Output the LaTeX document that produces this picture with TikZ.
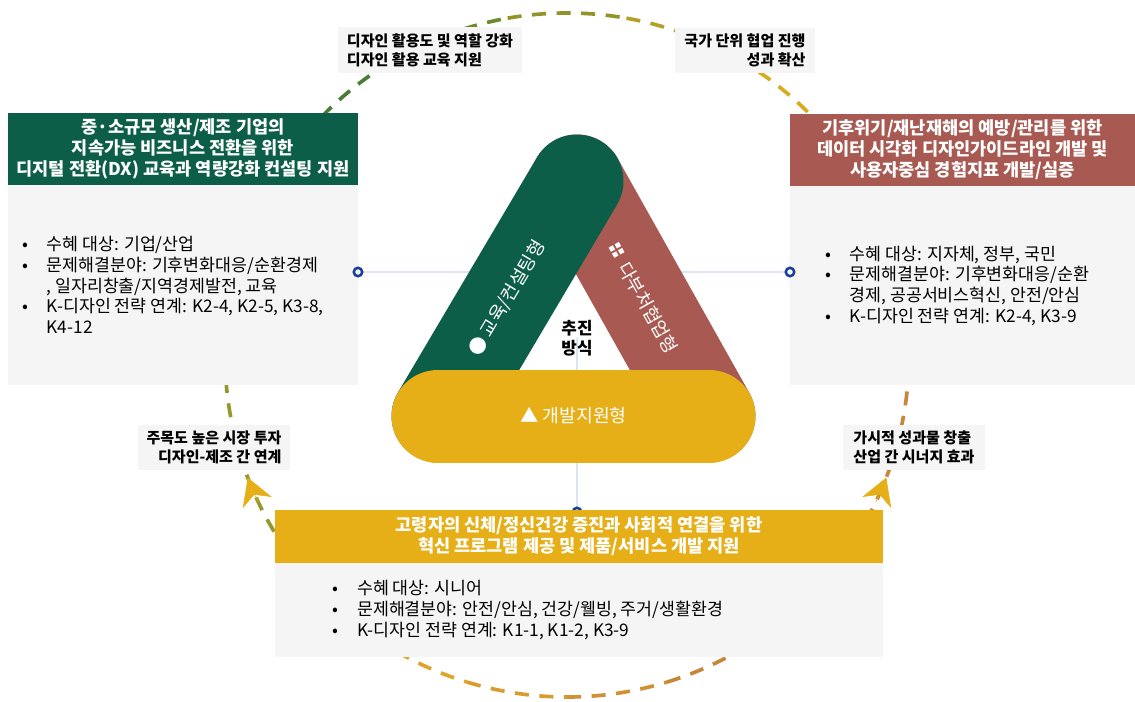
\documentclass[tikz,border=0pt]{standalone}
\usepackage{fontspec}
\setmainfont{Noto Sans CJK KR}
\usetikzlibrary{arrows.meta, positioning, calc}

\definecolor{DeepGreen}{RGB}{12, 94, 72}
\definecolor{Brick}{RGB}{168, 90, 82}
\definecolor{Mustard}{RGB}{230, 174, 23}
\definecolor{PaleGray}{RGB}{245, 245, 245}
\definecolor{RingBlue}{RGB}{22, 66, 150}
\definecolor{HairGray}{RGB}{222, 228, 240}
\definecolor{ArcGreen}{RGB}{76, 124, 52}
\definecolor{ArcGold}{RGB}{214, 172, 28}
\definecolor{ArcOlive}{RGB}{150, 152, 44}
\definecolor{ArcOrange}{RGB}{200, 134, 58}
\definecolor{ArcAmber}{RGB}{222, 165, 40}

\newcommand{\bul}{\makebox[17.5pt][l]{•}}
\newcommand{\cont}{\hspace*{17.5pt}}
\newcommand{\sqbit}{\rule{3.4pt}{3.4pt}}
\newcommand{\foursq}{\raisebox{0.1em}{\vbox{\offinterlineskip\hbox{\sqbit\kern1.5pt\sqbit}\kern1.5pt\hbox{\sqbit\kern1.5pt\sqbit}}}}

\begin{document}
\begin{tikzpicture}[
    x=0.25mm, y=0.25mm,
    every node/.style={align=center, outer sep=0pt},
    headbox/.style={text=white, font=\fontsize{12.5}{15}\selectfont\bfseries, inner sep=0pt},
    bodybox/.style={fill=PaleGray, inner sep=0pt},
    listtext/.style={align=left, font=\fontsize{12.3}{14.7}\selectfont, inner sep=0pt},
    notebox/.style={fill=PaleGray, font=\fontsize{10.7}{13.5}\selectfont\bfseries, inner sep=0pt, minimum height=11.25mm},
    band/.style={line width=23.25mm, line cap=round},
    bandtext/.style={text=white, font=\fontsize{13}{15}\selectfont, sloped},
    dashring/.style={line width=2.6pt, dash pattern=on 10pt off 7.5pt},
    tipmark/.style={Mustard, line width=0.4pt, -{Stealth[length=19pt, width=22pt, inset=6pt]}},
    hair/.style={HairGray, line width=0.8pt},
    port/.style={circle, draw=RingBlue, line width=1.8pt, fill=white, minimum size=6pt, inner sep=0pt}
]
\useasboundingbox (0,0) rectangle (1135,-701);

\coordinate (ring) at (567,-355);
\coordinate (core) at (577,-338);
\coordinate (apex) at (577,-181);
\coordinate (lfoot) at (438,-416);
\coordinate (rfoot) at (709,-416);
\coordinate (lport) at (358,-272);
\coordinate (rport) at (790,-272);
\coordinate (bport) at (577,-512);

% dashed cycle
\foreach \k [evaluate=\k as \p using {int(100-25*\k)}, evaluate=\k as \a using {140-20*\k}] in {0,...,4}
  \draw[dashring, ArcGreen!\p!ArcGold] (ring) ++(\a:342) arc[start angle=\a, end angle=\a-20, radius=342];
\draw[dashring, ArcOlive] (ring) ++(184:342) arc[start angle=184, end angle=214, radius=342];
\draw[dashring, ArcOrange] (ring) ++(-2:342) arc[start angle=-2, end angle=-32, radius=342];
\foreach \k [evaluate=\k as \p using {int(100-33*\k)}, evaluate=\k as \a using {236+17*\k}] in {0,...,3}
  \draw[dashring, ArcAmber!\p!ArcOrange] (ring) ++(\a:342) arc[start angle=\a, end angle=\a+17, radius=342];
\draw[tipmark] (ring) ++(205.5:342) arc[start angle=205.5, end angle=201, radius=342];
\draw[tipmark] (ring) ++(-25.5:342) arc[start angle=-25.5, end angle=-21, radius=342];

% thin links to the centre
\draw[hair] (lport) -- (rport);
\draw[hair] (core) -- (bport);
\node[port] (srport) at (bport) {};

% three support boxes
\node[headbox, fill=DeepGreen, minimum width=87.5mm, minimum height=18mm] (dxhead) at (183,-149)
  {중·소규모 생산/제조 기업의\\지속가능 비즈니스 전환을 위한\\디지털 전환(DX) 교육과 역량강화 컨설팅 지원};
\node[bodybox, minimum width=87.5mm, minimum height=50mm, below=0pt of dxhead] (dxbody) {};
\node[listtext, right=10pt of dxbody.west] (dxlist)
  {\bul 수혜 대상: 기업/산업\\
   \bul 문제해결분야: 기후변화대응/순환경제\\
   \cont , 일자리창출/지역경제발전, 교육\\
   \bul K-디자인 전략 연계: K2-4, K2-5, K3-8,\\
   \cont K4-12};

\node[headbox, fill=Brick, minimum width=86.25mm, minimum height=18mm] (vzhead) at (962.5,-150)
  {기후위기/재난재해의 예방/관리를 위한\\데이터 시각화 디자인가이드라인 개발 및\\사용자중심 경험지표 개발/실증};
\node[bodybox, minimum width=86.25mm, minimum height=49.75mm, below=0pt of vzhead] (vzbody) {};
\node[listtext, right=25pt of vzbody.west] (vzlist)
  {\bul 수혜 대상: 지자체, 정부, 국민\\
   \bul 문제해결분야: 기후변화대응/순환\\
   \cont 경제, 공공서비스혁신, 안전/안심\\
   \bul K-디자인 전략 연계: K2-4, K3-9};

\node[headbox, fill=Mustard, minimum width=152mm, minimum height=13.25mm] (srhead) at (579,-536.5)
  {고령자의 신체/정신건강 증진과 사회적 연결을 위한\\혁신 프로그램 제공 및 제품/서비스 개발 지원};
\node[bodybox, minimum width=152mm, minimum height=23.5mm, below=0pt of srhead] (srbody) {};
\node[listtext, right=41pt of srbody.west] (srlist)
  {\bul 수혜 대상: 시니어\\
   \bul 문제해결분야: 안전/안심, 건강/웰빙, 주거/생활환경\\
   \bul K-디자인 전략 연계: K1-1, K1-2, K3-9};

% notes on the cycle
\node[notebox, minimum width=46mm, align=left] (noteTL) at (430,-50) {디자인 활용도 및 역할 강화\\디자인 활용 교육 지원};
\node[notebox, minimum width=35mm, align=right] (noteTR) at (745,-50.5) {국가 단위 협업 진행\\성과 확산};
\node[notebox, minimum width=38mm, align=right] (noteBL) at (214,-447.5) {주목도 높은 시장 투자\\디자인-제조 간 연계};
\node[notebox, minimum width=35.5mm, align=left] (noteBR) at (914,-447.5) {가시적 성과물 창출\\산업 간 시너지 효과};

% triangle of bands
\draw[band, Brick] (apex) -- node[bandtext] (vzlabel) {\foursq\hspace{7pt}다부처협업형} (rfoot);
\draw[band, DeepGreen] (lfoot) -- node[bandtext] (dxlabel) {● 교육/컨설팅형} (apex);
\draw[band, Mustard] (lfoot) -- node[bandtext] (srlabel) {▲ 개발지원형} (rfoot);
\node[font=\fontsize{12}{14.5}\selectfont\bfseries] (coretext) at (core) {추진\\방식};

\node[port] (dxport) at (lport) {};
\node[port] (vzport) at (rport) {};
\end{tikzpicture}
\end{document}
